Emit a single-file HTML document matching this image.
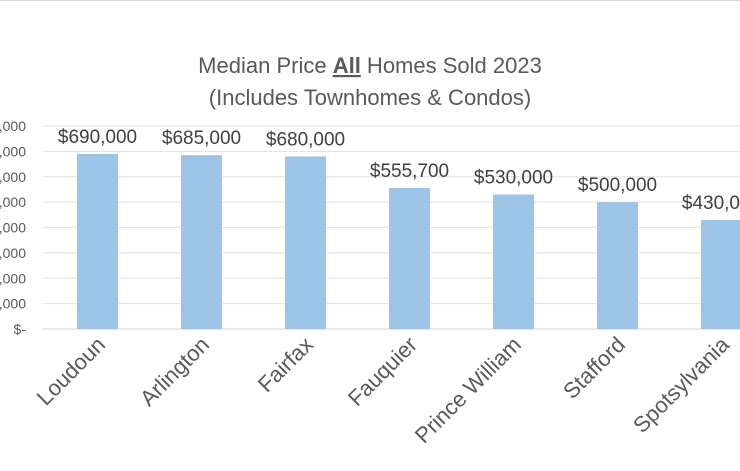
<!DOCTYPE html>
<html><head><meta charset="utf-8"><style>
html,body{margin:0;padding:0;background:#fff;}
svg{display:block;font-family:"Liberation Sans",Calibri,sans-serif;}
</style></head><body>
<svg id="chart" width="740" height="471" viewBox="0 0 740 471">
<line x1="0" y1="0.5" x2="740" y2="0.5" stroke="#d9d9d9"/>
<text x="370" y="73" text-anchor="middle" font-size="22" fill="#595959">Median Price <tspan font-weight="bold" text-decoration="underline">All</tspan> Homes Sold 2023</text>
<text x="370" y="105" text-anchor="middle" font-size="22" fill="#595959">(Includes Townhomes &amp; Condos)</text>
<g id="grid"></g><g id="yticks"></g><g id="bars"></g><g id="vals"></g><g id="xlabels"></g>
</svg>
<script>
const categories=["Loudoun","Arlington","Fairfax","Fauquier","Prince William","Stafford","Spotsylvania"];
const values=[690000,685000,680000,555700,530000,500000,430000];
const valueLabels=["$690,000","$685,000","$680,000","$555,700","$530,000","$500,000","$430,000"];
const tickValues=[0,100000,200000,300000,400000,500000,600000,700000,800000];
const tickLabels=["$-","$100,000","$200,000","$300,000","$400,000","$500,000","$600,000","$700,000","$800,000"];
const NS="http://www.w3.org/2000/svg";
const y0=329,y1=126,maxV=800000;
function y(v){return y0-(v/maxV)*(y0-y1);}
function x(i){return 97.5+i*104;}
function mk(t,a,p){const e=document.createElementNS(NS,t);for(const k in a)e.setAttribute(k,a[k]);document.getElementById(p).appendChild(e);return e;}
tickValues.forEach((v,i)=>{
 const g=mk("line",{x1:43,x2:740,y1:y(v),y2:y(v),stroke:v===0?"#d0d0d0":"#e0e0e0","stroke-width":1},"grid");
 
 
 const t=mk("text",{x:26,y:y(v)+5,"text-anchor":"end","font-size":14,fill:"#595959"},"yticks");
 t.textContent=tickLabels[i];
 
 
});
categories.forEach((c,i)=>{
 const b=mk("rect",{x:x(i)-20.5,y:y(values[i]),width:41,height:y0-y(values[i]),fill:"#9dc3e6"},"bars");
 
 
 const v=mk("text",{x:x(i),y:y(values[i])-11,"text-anchor":"middle","font-size":19,fill:"#404040"},"vals");
 v.textContent=valueLabels[i];
 
 
 const l=mk("text",{x:x(i)+9,y:y0+17,"text-anchor":"end","font-size":22,fill:"#595959",transform:`rotate(-45 ${x(i)+9} ${y0+17})`},"xlabels");
 l.textContent=c;
 
 
});
</script>
</body></html>
